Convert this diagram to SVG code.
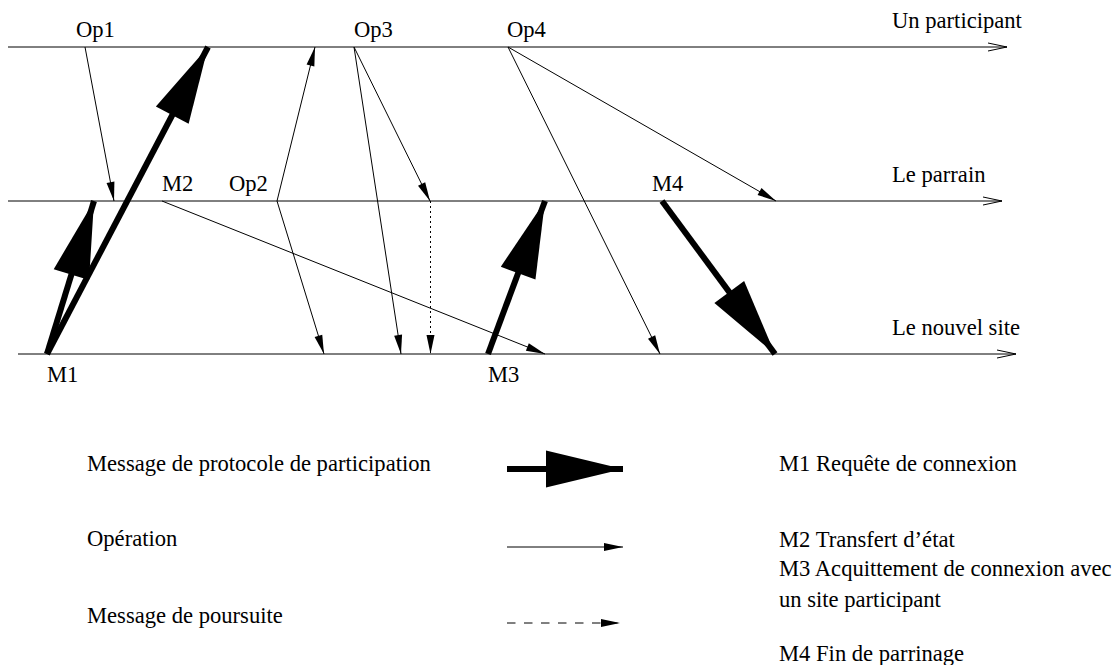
<svg xmlns="http://www.w3.org/2000/svg" width="1118" height="665" viewBox="0 0 1118 665">
<style>
text{font-family:"Liberation Serif","Times New Roman",serif;font-size:22.6px;fill:#000}
.tl{stroke:#000;stroke-width:1;fill:none}
.op{stroke:#000;stroke-width:1;fill:none;marker-end:url(#thin)}
.msg{stroke:#000;stroke-width:6;fill:none;marker-end:url(#thick)}
.dot{stroke:#000;stroke-width:1;fill:none;stroke-dasharray:2 3;marker-end:url(#thin)}
.dash{stroke:#000;stroke-width:1;fill:none;stroke-dasharray:8.5 8.5;marker-end:url(#thin)}
</style>
<defs>
<marker id="thin" markerUnits="userSpaceOnUse" markerWidth="20" markerHeight="9" refX="19" refY="4" orient="auto" overflow="visible">
<path d="M0,0 L19,4 L0,8 z" fill="#000"/>
</marker>
<marker id="thick" markerUnits="userSpaceOnUse" markerWidth="78" markerHeight="38" refX="77" refY="18.5" orient="auto" overflow="visible">
<path d="M0,0 L77,18.5 L0,37 z" fill="#000"/>
</marker>
</defs>
<rect width="1118" height="665" fill="#fff"/>

<g id="participant">
<line class="tl" x1="8" y1="47" x2="1007" y2="47"/>
<polyline class="tl" points="988,43 1007,47 988,51"/>
<text x="892" y="28">Un participant</text>
<text x="76" y="37">Op1</text>
<text x="354" y="37">Op3</text>
<text x="507" y="37">Op4</text>
</g>

<g id="parrain">
<line class="tl" x1="8" y1="201" x2="1002" y2="201"/>
<polyline class="tl" points="983,197 1002,201 983,205"/>
<text x="892" y="182">Le parrain</text>
<text x="162" y="191">M2</text>
<text x="229" y="191">Op2</text>
<text x="652" y="191">M4</text>
</g>

<g id="nouvel-site">
<line class="tl" x1="18" y1="354" x2="1016" y2="354"/>
<polyline class="tl" points="997,350 1016,354 997,358"/>
<text x="892" y="335">Le nouvel site</text>
<text x="47" y="382">M1</text>
<text x="488" y="382">M3</text>
</g>

<g id="connectors">
<line class="op" x1="85" y1="47" x2="114" y2="201"/>
<line class="op" x1="277" y1="201" x2="315" y2="47"/>
<line class="op" x1="277" y1="201" x2="324" y2="354"/>
<line class="op" x1="354" y1="47" x2="430" y2="201"/>
<line class="op" x1="354" y1="47" x2="401" y2="354"/>
<line class="dot" x1="430.5" y1="201" x2="430.5" y2="354"/>
<line class="op" x1="162" y1="201" x2="545" y2="354"/>
<line class="op" x1="508" y1="47" x2="776" y2="201"/>
<line class="op" x1="508" y1="47" x2="660" y2="354"/>
<line class="msg" x1="47" y1="354" x2="208" y2="47"/>
<line class="msg" x1="47" y1="354" x2="94" y2="201"/>
<line class="msg" x1="488" y1="354" x2="545" y2="201"/>
<line class="msg" x1="662" y1="201" x2="775" y2="354"/>
</g>

<g id="legend">
<line class="msg" x1="507" y1="469" x2="623" y2="469"/>
<line class="op" x1="507" y1="547" x2="623" y2="547"/>
<line class="dash" x1="507" y1="623" x2="620" y2="623"/>
<text x="87" y="471">Message de protocole de participation</text>
<text x="87" y="546">Opération</text>
<text x="87" y="623">Message de poursuite</text>
<text x="779" y="471">M1 Requête de connexion</text>
<text x="779" y="547">M2 Transfert d’état</text>
<text x="779" y="576">M3 Acquittement de connexion avec</text>
<text x="779" y="607">un site participant</text>
<text x="779" y="661">M4 Fin de parrinage</text>
</g>
</svg>
